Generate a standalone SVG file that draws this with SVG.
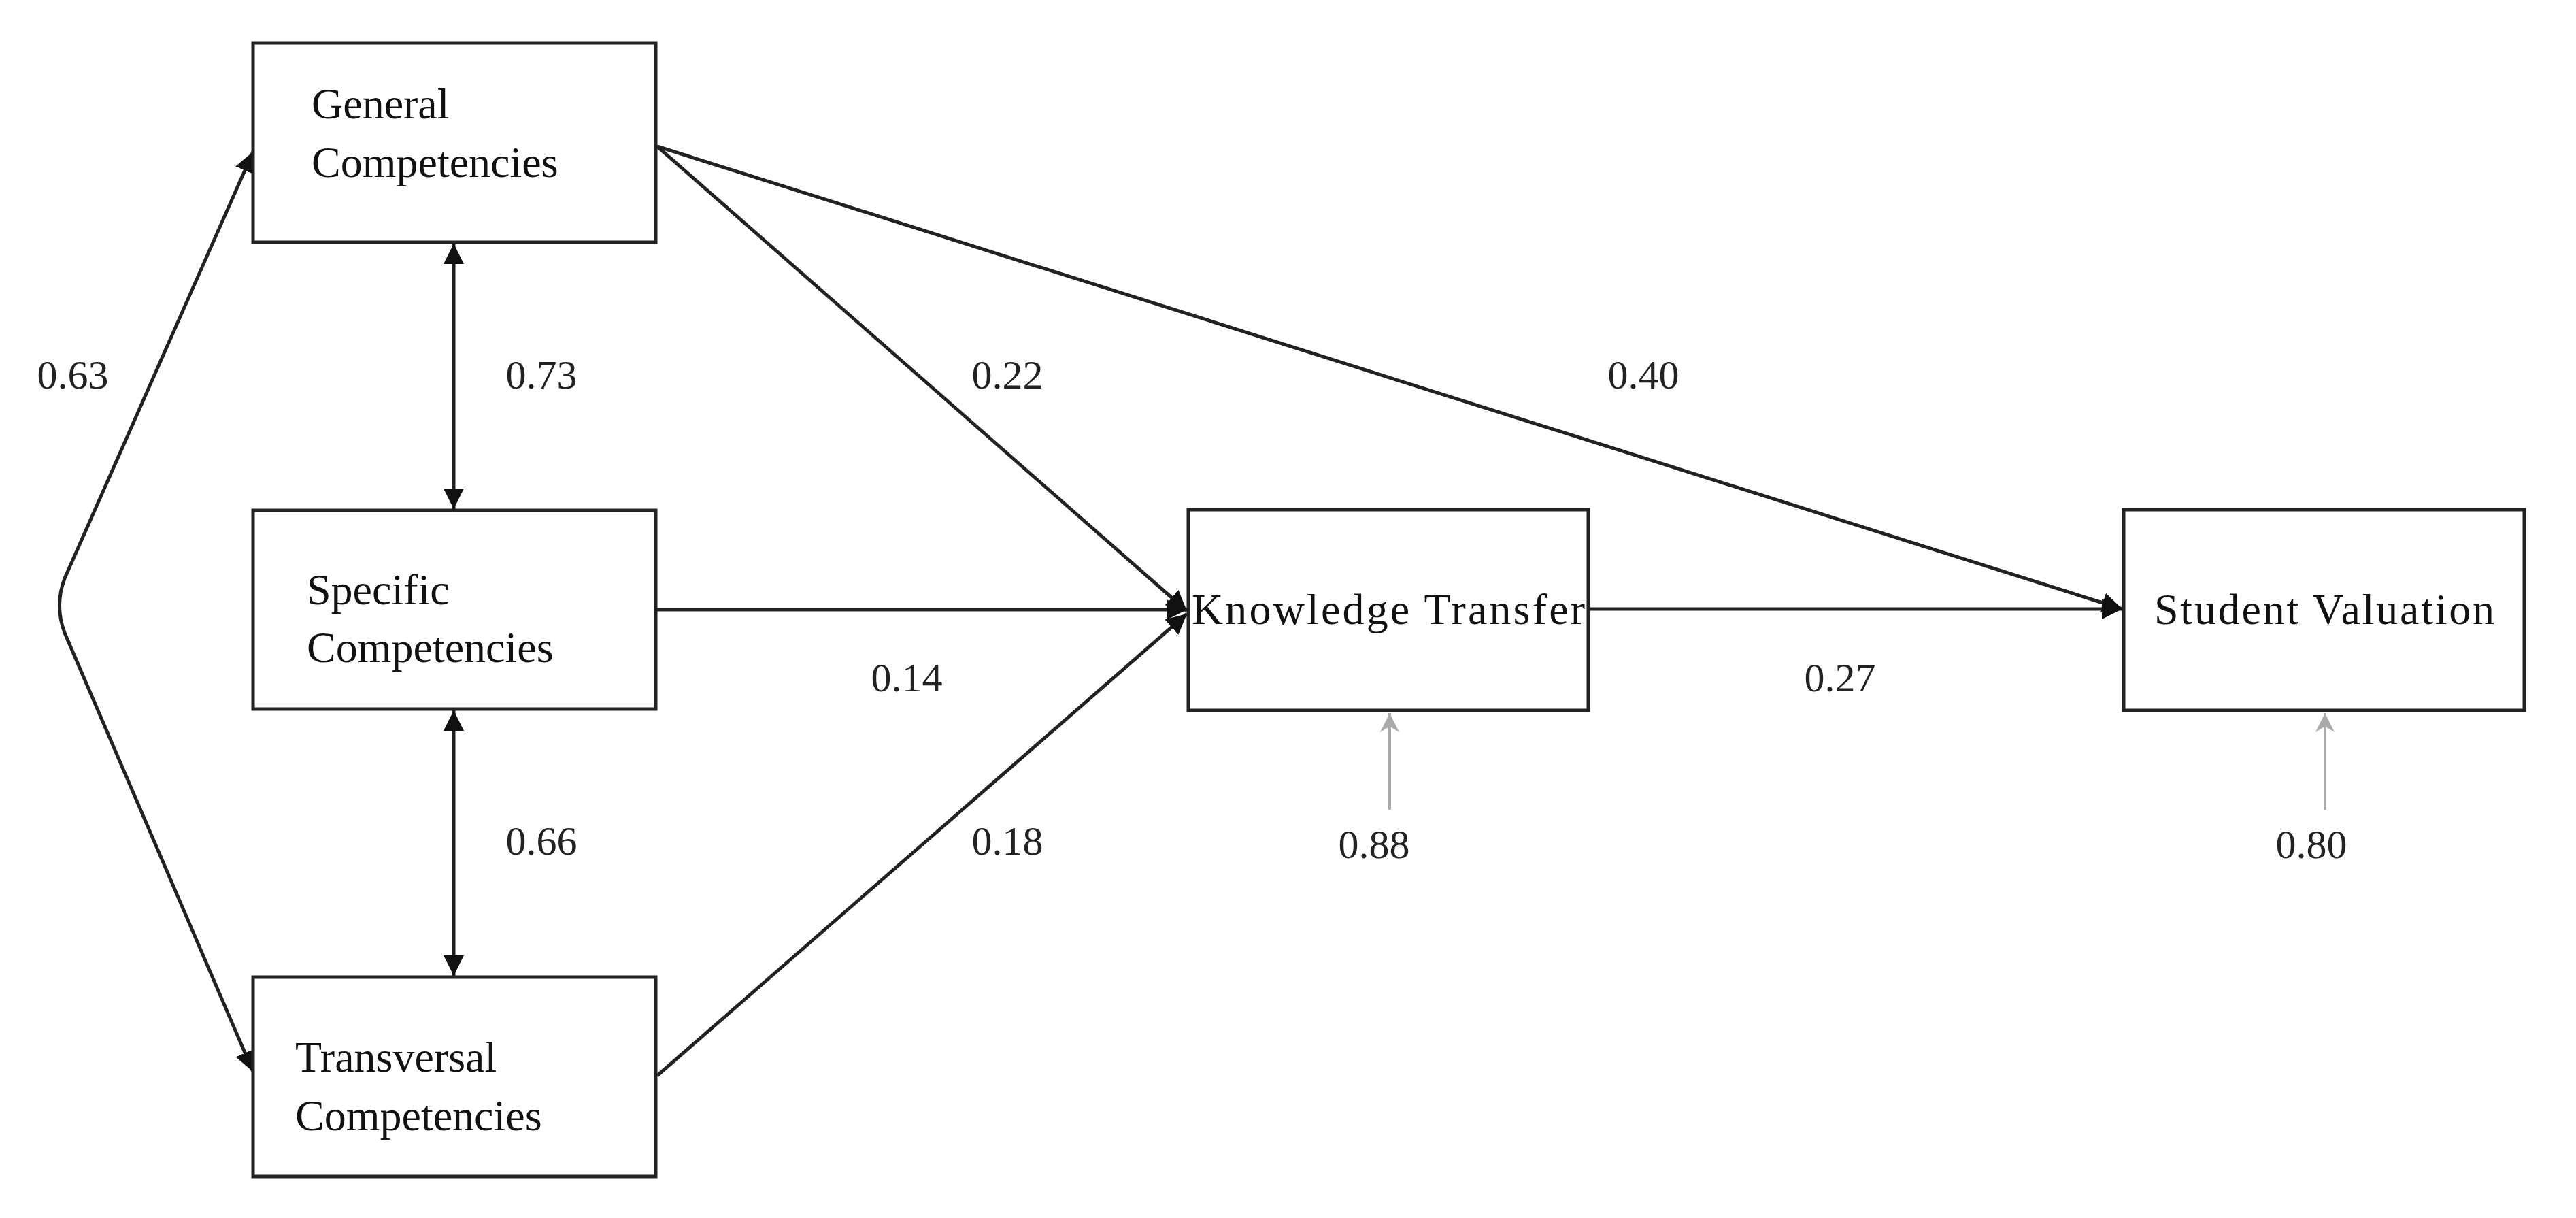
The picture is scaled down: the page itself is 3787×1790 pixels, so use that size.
<svg xmlns="http://www.w3.org/2000/svg" width="3787" height="1790" viewBox="0 0 3787 1790">
<defs>
<style>
.box{fill:#fff;stroke:#222;stroke-width:5}
.t{font-family:"Liberation Serif",serif;font-size:64px;fill:#111}
.l{font-family:"Liberation Serif",serif;font-size:60px;fill:#222;text-anchor:middle}
.c{fill:none;stroke:#222;stroke-width:5}
.g{fill:none;stroke:#aaa;stroke-width:4}
</style>
<marker id="a" viewBox="0 0 10 10" refX="10" refY="5" markerWidth="6" markerHeight="6" orient="auto-start-reverse" markerUnits="strokeWidth"><path d="M0,0L10,5L0,10z" fill="#111"/></marker>
<marker id="ag" viewBox="0 0 10 10" refX="10" refY="5" markerWidth="7" markerHeight="7" orient="auto" markerUnits="strokeWidth"><path d="M0,0L10,5L0,10L3,5z" fill="#aaa"/></marker>
</defs>
<rect width="3787" height="1790" fill="#fff"/>
<g id="connectors">
<path class="c" d="M372,223 L95,850 Q80,890 95,930 L372,1575" marker-start="url(#a)" marker-end="url(#a)"/>
<line class="c" x1="667" y1="358" x2="667" y2="748" marker-start="url(#a)" marker-end="url(#a)"/>
<line class="c" x1="667" y1="1044" x2="667" y2="1434" marker-start="url(#a)" marker-end="url(#a)"/>
<line class="c" x1="966" y1="215" x2="1745" y2="898" marker-end="url(#a)"/>
<line class="c" x1="966" y1="215" x2="3120" y2="895" marker-end="url(#a)"/>
<line class="c" x1="966" y1="896" x2="1745" y2="896" marker-end="url(#a)"/>
<line class="c" x1="966" y1="1581" x2="1745" y2="902" marker-end="url(#a)"/>
<line class="c" x1="2337" y1="895" x2="3120" y2="895" marker-end="url(#a)"/>
<line class="g" x1="2043" y1="1190" x2="2043" y2="1048" marker-end="url(#ag)"/>
<line class="g" x1="3418" y1="1190" x2="3418" y2="1048" marker-end="url(#ag)"/>
<text class="l" x="107" y="571">0.63</text>
<text class="l" x="796" y="571">0.73</text>
<text class="l" x="1481" y="571">0.22</text>
<text class="l" x="2416" y="571">0.40</text>
<text class="l" x="1333" y="1016">0.14</text>
<text class="l" x="2705" y="1016">0.27</text>
<text class="l" x="796" y="1256">0.66</text>
<text class="l" x="1481" y="1256">0.18</text>
<text class="l" x="2020" y="1261">0.88</text>
<text class="l" x="3398" y="1261">0.80</text>
</g>
<g id="general"><rect class="box" x="372" y="63" width="592" height="293"/><text class="t" x="458" y="174">General</text><text class="t" x="458" y="260">Competencies</text></g>
<g id="specific"><rect class="box" x="372" y="750" width="592" height="292"/><text class="t" x="451" y="888">Specific</text><text class="t" x="451" y="973">Competencies</text></g>
<g id="transversal"><rect class="box" x="372" y="1436" width="592" height="293"/><text class="t" x="434" y="1575">Transversal</text><text class="t" x="434" y="1661">Competencies</text></g>
<g id="knowledge"><rect class="box" x="1747" y="749" width="588" height="295"/><text class="t" x="1752" y="917" textLength="578">Knowledge Transfer</text></g>
<g id="student"><rect class="box" x="3122" y="749" width="589" height="295"/><text class="t" x="3167" y="917" textLength="500">Student Valuation</text></g>
</svg>
